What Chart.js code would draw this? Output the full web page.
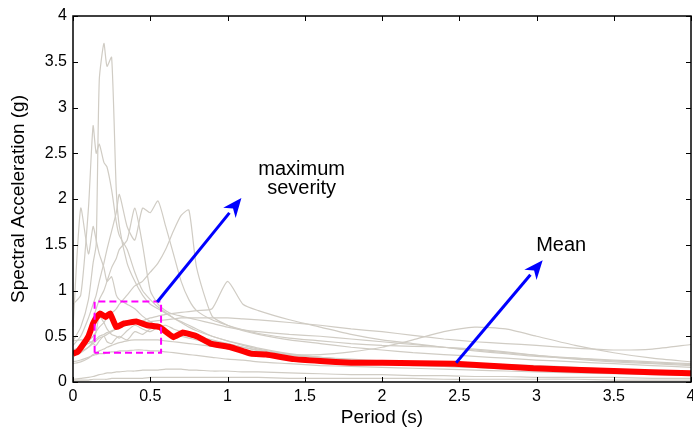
<!DOCTYPE html>
<html>
<head>
<meta charset="utf-8">
<script src="https://cdn.jsdelivr.net/npm/chart.js@4.4.1/dist/chart.umd.min.js"></script>
<style>
  html, body { margin: 0; padding: 0; background: #fff; }
  #wrap { width: 693px; height: 428px; }
</style>
</head>
<body>
<div id="wrap"><canvas id="chart" width="693" height="428"></canvas></div>
<script>
// Periods (s) shared by the individual record spectra
const periods = [0, 0.05, 0.1, 0.13, 0.15, 0.17, 0.2, 0.22, 0.25, 0.28, 0.3, 0.35, 0.4, 0.45, 0.5, 0.55, 0.6, 0.65, 0.7, 0.75, 0.8, 0.9, 1.0, 1.1, 1.2, 1.4, 1.6, 1.8, 2.0, 2.2, 2.4, 2.6, 2.8, 3.0, 3.25, 3.5, 3.75, 4.0];

// Spectral acceleration (g) of each record
const rec1 = [0.45, 0.6, 0.9, 1.3, 1.5, 3.3, 3.7, 3.45, 3.55, 2.1, 1.7, 1.3, 1.1, 0.95, 0.85, 0.8, 0.75, 0.7, 0.66, 0.62, 0.58, 0.5, 0.45, 0.4, 0.36, 0.3, 0.26, 0.23, 0.21, 0.19, 0.17, 0.16, 0.14, 0.13, 0.12, 0.11, 0.1, 0.09];
const rec2 = [0.85, 0.95, 1.9, 2.8, 2.5, 2.6, 2.4, 2.35, 2.1, 1.75, 1.6, 1.45, 1.2, 1.0, 0.9, 0.82, 0.76, 0.7, 0.65, 0.6, 0.56, 0.5, 0.45, 0.41, 0.37, 0.31, 0.27, 0.24, 0.22, 0.2, 0.18, 0.17, 0.15, 0.14, 0.13, 0.12, 0.11, 0.1];
const rec3 = [0.6, 1.9, 1.4, 1.7, 1.55, 1.4, 1.25, 1.1, 1.15, 0.95, 0.9, 0.85, 0.8, 0.72, 0.66, 0.6, 0.55, 0.52, 0.5, 0.48, 0.46, 0.42, 0.38, 0.35, 0.32, 0.28, 0.25, 0.22, 0.2, 0.18, 0.17, 0.16, 0.15, 0.14, 0.13, 0.12, 0.11, 0.1];
const rec4 = [0.3, 0.35, 0.45, 0.5, 0.55, 0.6, 0.65, 0.7, 0.75, 0.8, 0.85, 0.95, 1.05, 1.1, 1.2, 1.3, 1.45, 1.65, 1.82, 1.88, 1.25, 0.72, 0.62, 0.56, 0.52, 0.46, 0.42, 0.38, 0.35, 0.32, 0.3, 0.28, 0.26, 0.24, 0.22, 0.2, 0.18, 0.16];
const rec5 = [0.4, 0.5, 0.7, 0.85, 0.95, 1.1, 1.3, 1.45, 1.65, 1.85, 2.05, 1.7, 1.55, 1.9, 1.85, 1.98, 1.7, 1.4, 1.1, 0.9, 0.78, 0.68, 0.62, 0.57, 0.53, 0.48, 0.45, 0.42, 0.4, 0.39, 0.38, 0.36, 0.33, 0.29, 0.25, 0.22, 0.2, 0.18];
const rec6 = [0.3, 0.4, 0.55, 0.7, 0.8, 0.9, 1.0, 1.1, 1.25, 1.35, 1.45, 1.55, 1.9, 1.5, 1.0, 0.85, 0.78, 0.74, 0.72, 0.7, 0.68, 0.64, 0.6, 0.57, 0.55, 0.52, 0.5, 0.47, 0.44, 0.41, 0.38, 0.35, 0.32, 0.29, 0.26, 0.23, 0.21, 0.19];
const rec7 = [0.3, 0.32, 0.38, 0.42, 0.45, 0.48, 0.5, 0.52, 0.55, 0.58, 0.6, 0.62, 0.65, 0.67, 0.7, 0.72, 0.74, 0.75, 0.76, 0.77, 0.78, 0.8, 1.1, 0.85, 0.78, 0.68, 0.6, 0.52, 0.46, 0.42, 0.38, 0.34, 0.31, 0.28, 0.26, 0.24, 0.22, 0.2];
const rec8 = [0.2, 0.22, 0.26, 0.3, 0.32, 0.34, 0.36, 0.38, 0.4, 0.42, 0.43, 0.45, 0.46, 0.46, 0.46, 0.46, 0.45, 0.44, 0.43, 0.42, 0.41, 0.39, 0.37, 0.35, 0.33, 0.3, 0.3, 0.33, 0.38, 0.46, 0.55, 0.6, 0.58, 0.5, 0.4, 0.32, 0.26, 0.22];
const rec9 = [0.35, 0.38, 0.42, 0.45, 0.47, 0.5, 0.52, 0.54, 0.56, 0.58, 0.6, 0.62, 0.64, 0.65, 0.66, 0.67, 0.68, 0.69, 0.7, 0.7, 0.7, 0.7, 0.7, 0.69, 0.68, 0.65, 0.62, 0.58, 0.55, 0.51, 0.47, 0.44, 0.42, 0.4, 0.37, 0.35, 0.36, 0.41];
const rec10 = [0.03, 0.04, 0.05, 0.06, 0.07, 0.08, 0.09, 0.1, 0.1, 0.11, 0.11, 0.12, 0.12, 0.13, 0.13, 0.13, 0.14, 0.14, 0.14, 0.13, 0.13, 0.12, 0.12, 0.11, 0.11, 0.1, 0.09, 0.08, 0.08, 0.07, 0.07, 0.06, 0.06, 0.05, 0.05, 0.05, 0.04, 0.04];
const rec11 = [0.02, 0.02, 0.02, 0.03, 0.03, 0.03, 0.03, 0.03, 0.04, 0.04, 0.04, 0.04, 0.04, 0.04, 0.05, 0.05, 0.05, 0.05, 0.05, 0.05, 0.05, 0.05, 0.05, 0.05, 0.05, 0.04, 0.04, 0.04, 0.04, 0.04, 0.03, 0.03, 0.03, 0.03, 0.03, 0.02, 0.02, 0.02];
const rec12 = [0.22, 0.24, 0.27, 0.29, 0.3, 0.31, 0.31, 0.32, 0.33, 0.33, 0.34, 0.34, 0.35, 0.35, 0.34, 0.34, 0.33, 0.32, 0.31, 0.3, 0.29, 0.27, 0.25, 0.24, 0.22, 0.2, 0.18, 0.17, 0.16, 0.15, 0.14, 0.13, 0.12, 0.11, 0.1, 0.09, 0.08, 0.07];
const rec13 = [0.45, 0.46, 0.45, 0.42, 0.4, 0.45, 0.5, 0.44, 0.42, 0.48, 0.5, 0.46, 0.55, 0.52, 0.58, 0.6, 0.55, 0.5, 0.52, 0.5, 0.48, 0.45, 0.42, 0.38, 0.34, 0.3, 0.27, 0.24, 0.22, 0.21, 0.2, 0.19, 0.18, 0.16, 0.14, 0.12, 0.11, 0.1];
const rec14 = [0.32, 0.34, 0.38, 0.45, 0.55, 0.72, 0.65, 0.58, 0.52, 0.5, 0.48, 0.56, 0.62, 0.58, 0.55, 0.6, 0.62, 0.58, 0.55, 0.52, 0.5, 0.46, 0.42, 0.38, 0.35, 0.3, 0.27, 0.25, 0.23, 0.22, 0.21, 0.2, 0.19, 0.18, 0.16, 0.14, 0.12, 0.11];
const records = [rec1, rec2, rec3, rec4, rec5, rec6, rec7, rec8, rec9, rec10, rec11, rec12, rec13, rec14];

// Mean spectrum (red)
const meanPeriods = [0, 0.03, 0.07, 0.1, 0.13, 0.15, 0.175, 0.21, 0.24, 0.28, 0.33, 0.41, 0.48, 0.56, 0.65, 0.71, 0.8, 0.89, 1.02, 1.15, 1.25, 1.43, 1.6, 1.8, 2.0, 2.47, 2.98, 3.5, 4.0];
const meanValues = [0.31, 0.33, 0.42, 0.5, 0.64, 0.7, 0.75, 0.71, 0.75, 0.6, 0.64, 0.66, 0.62, 0.6, 0.49, 0.54, 0.5, 0.42, 0.38, 0.31, 0.3, 0.25, 0.23, 0.21, 0.21, 0.2, 0.15, 0.12, 0.095];

// "maximum severity" window (period range, acceleration range)
const boxPeriods = [0.14, 0.57];
const boxAccel = [0.32, 0.88];

// Annotation arrows: [fromPeriod, fromAccel, toPeriod, toAccel]
const arrowSeverity = [0.545, 0.875, 1.09, 2.01];
const arrowMean = [2.48, 0.21, 3.04, 1.33];
// Annotation texts: [text, period, accel]
const labels = [["maximum", 1.48, 2.32], ["severity", 1.48, 2.11], ["Mean", 3.16, 1.49]];

const xTicks = [0, 0.5, 1, 1.5, 2, 2.5, 3, 3.5, 4];
const yTicks = [0, 0.5, 1, 1.5, 2, 2.5, 3, 3.5, 4];

Chart.defaults.font.family = "'Liberation Sans', Arial, sans-serif";
Chart.defaults.color = "#000";

const grayDatasets = records.map(r => ({
    data: r.map((v, i) => ({ x: periods[i], y: v })),
    borderColor: "rgb(208, 204, 196)",
    borderWidth: 1.2,
    pointRadius: 0,
    tension: 0.2,
    clip: 0,
    order: 3,
}));

const meanDataset = {
    data: meanValues.map((v, i) => ({ x: meanPeriods[i], y: v })),
    borderColor: "#ff0000",
    borderWidth: 6,
    pointRadius: 0,
    tension: 0.1,
    clip: 0,
    order: 2,
};

const boxDataset = {
    data: [
        { x: boxPeriods[0], y: boxAccel[0] },
        { x: boxPeriods[0], y: boxAccel[1] },
        { x: boxPeriods[1], y: boxAccel[1] },
        { x: boxPeriods[1], y: boxAccel[0] },
        { x: boxPeriods[0], y: boxAccel[0] },
    ],
    borderColor: "#ff00ff",
    borderWidth: 2,
    borderDash: [7, 4],
    pointRadius: 0,
    tension: 0,
    order: 1,
};

// MATLAB-like axes box, inward ticks, arrows and notes
const decorations = {
    id: "decorations",
    afterDatasetsDraw(chart) {
        const ctx = chart.ctx;
        const xs = chart.scales.x, ys = chart.scales.y;
        const a = chart.chartArea;
        ctx.save();

        // arrows
        [arrowSeverity, arrowMean].forEach(([x0, y0, x1, y1]) => {
            const px0 = xs.getPixelForValue(x0), py0 = ys.getPixelForValue(y0);
            const px1 = xs.getPixelForValue(x1), py1 = ys.getPixelForValue(y1);
            const ang = Math.atan2(py1 - py0, px1 - px0);
            const len = 19, half = 8;
            const bx = px1 - len * Math.cos(ang), by = py1 - len * Math.sin(ang);
            ctx.strokeStyle = "#0000ff";
            ctx.fillStyle = "#0000ff";
            ctx.lineWidth = 3;
            ctx.beginPath();
            ctx.moveTo(px0, py0);
            ctx.lineTo(bx, by);
            ctx.stroke();
            ctx.beginPath();
            ctx.moveTo(px1, py1);
            ctx.lineTo(bx + half * Math.sin(ang), by - half * Math.cos(ang));
            ctx.lineTo(px1 - 0.7 * len * Math.cos(ang), py1 - 0.7 * len * Math.sin(ang));
            ctx.lineTo(bx - half * Math.sin(ang), by + half * Math.cos(ang));
            ctx.closePath();
            ctx.fill();
        });

        // texts
        ctx.fillStyle = "#000";
        ctx.font = "20px 'Liberation Sans', Arial, sans-serif";
        ctx.textAlign = "center";
        ctx.textBaseline = "middle";
        labels.forEach(([t, x, y]) => {
            ctx.fillText(t, xs.getPixelForValue(x), ys.getPixelForValue(y));
        });

        // box
        ctx.strokeStyle = "#000";
        ctx.lineWidth = 1.5;
        ctx.strokeRect(a.left, a.top, a.right - a.left, a.bottom - a.top);

        // inward ticks
        ctx.lineWidth = 1;
        const tl = 5;
        ctx.beginPath();
        xTicks.forEach(v => {
            const p = Math.round(xs.getPixelForValue(v)) + 0.5;
            ctx.moveTo(p, a.bottom); ctx.lineTo(p, a.bottom - tl);
            ctx.moveTo(p, a.top); ctx.lineTo(p, a.top + tl);
        });
        yTicks.forEach(v => {
            const p = Math.round(ys.getPixelForValue(v)) + 0.5;
            ctx.moveTo(a.left, p); ctx.lineTo(a.left + tl, p);
            ctx.moveTo(a.right, p); ctx.lineTo(a.right - tl, p);
        });
        ctx.stroke();
        ctx.restore();
    }
};

new Chart(document.getElementById("chart"), {
    type: "line",
    data: { datasets: [...grayDatasets, meanDataset, boxDataset] },
    options: {
        responsive: false,
        animation: false,
        devicePixelRatio: 1,
        layout: { padding: { top: 16, right: 2, left: 0, bottom: 0 } },
        plugins: { legend: { display: false }, tooltip: { enabled: false } },
        scales: {
            x: {
                type: "linear",
                min: 0,
                max: 4,
                afterBuildTicks: s => { s.ticks = xTicks.map(v => ({ value: v })); },
                afterFit: s => { s.height = 46; s.paddingLeft = 0; s.paddingRight = 0; },
                grid: { display: false, drawTicks: false },
                border: { display: false },
                ticks: { font: { size: 16 }, padding: 5, maxRotation: 0, callback: v => String(v) },
                title: { display: true, text: "Period (s)", font: { size: 19 }, padding: { top: 0, bottom: -1 } },
            },
            y: {
                type: "linear",
                min: 0,
                max: 4,
                afterBuildTicks: s => { s.ticks = yTicks.map(v => ({ value: v })); },
                afterFit: s => { s.width = 73; s.paddingTop = 0; s.paddingBottom = 0; },
                grid: { display: false, drawTicks: false },
                border: { display: false },
                ticks: { font: { size: 16 }, padding: 6, callback: v => String(v) },
                title: { display: true, text: "Spectral Acceleration (g)", font: { size: 19 }, padding: { top: 7, bottom: 0 } },
            },
        },
    },
    plugins: [decorations],
});
</script>
</body>
</html>
